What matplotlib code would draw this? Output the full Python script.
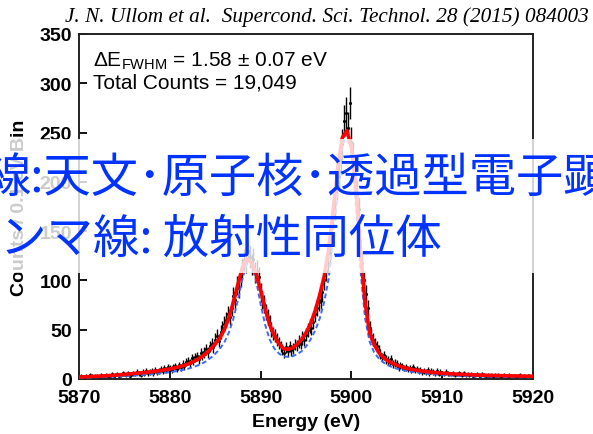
import numpy as np
import matplotlib
matplotlib.use("Agg")
import matplotlib.pyplot as plt
from matplotlib.patches import Rectangle

plt.rcParams['font.family'] = ['Liberation Sans', 'DejaVu Sans']
plt.rcParams['mathtext.default'] = 'regular'

# Measured spectrum, 0.2 eV steps from 5870 eV (five bins per row = 1 eV)
energy = np.round(np.arange(251) * 0.2 + 5870.0, 1)
counts = [
    2, 3, 1, 2, 3,        # 5870
    2, 4, 3, 1, 3,        # 5871
    3, 2, 4, 3, 2,        # 5872
    4, 3, 2, 5, 3,        # 5873
    4, 5, 3, 4, 6,        # 5874
    5, 4, 6, 3, 5,        # 5875
    6, 5, 7, 6, 4,        # 5876
    7, 5, 8, 6, 7,        # 5877
    8, 6, 9, 7, 8,        # 5878
    10, 8, 11, 9, 12,     # 5879
    11, 9, 12, 13, 10,    # 5880
    14, 12, 15, 13, 17,   # 5881
    18, 16, 21, 19, 22,   # 5882
    23, 20, 26, 24, 27,   # 5883
    30, 27, 33, 36, 32,   # 5884
    40, 44, 39, 48, 52,   # 5885
    56, 60, 66, 63, 72,   # 5886
    84, 80, 95, 92, 104,  # 5887
    112, 121, 118, 130, 124,  # 5888
    116, 122, 108, 110, 103,  # 5889
    88, 80, 76, 68, 63,   # 5890
    57, 50, 46, 44, 40,   # 5891
    37, 33, 30, 26, 32,   # 5892
    28, 33, 29, 31, 35,   # 5893
    34, 38, 36, 42, 40,   # 5894
    45, 50, 54, 52, 58,   # 5895
    66, 72, 78, 80, 88,   # 5896
    100, 110, 118, 128, 140,  # 5897
    165, 178, 196, 205, 222,  # 5898
    238, 262, 270, 255, 280,  # 5899
    240, 225, 210, 188, 172,  # 5900
    140, 118, 100, 86, 72,    # 5901
    52, 44, 40, 36, 33,   # 5902
    29, 25, 22, 24, 20,   # 5903
    19, 17, 20, 15, 16,   # 5904
    15, 12, 14, 13, 11,   # 5905
    12, 10, 11, 9, 12,    # 5906
    9, 10, 8, 9, 7,       # 5907
    8, 7, 9, 6, 8,        # 5908
    7, 6, 8, 5, 7,        # 5909
    6, 5, 7, 6, 5,        # 5910
    5, 6, 4, 5, 6,        # 5911
    5, 4, 6, 4, 5,        # 5912
    4, 5, 3, 4, 5,        # 5913
    4, 3, 5, 4, 3,        # 5914
    4, 3, 4, 2, 4,        # 5915
    3, 4, 3, 2, 4,        # 5916
    3, 2, 4, 3, 3,        # 5917
    3, 2, 3, 4, 2,        # 5918
    3, 2, 3, 3, 2,        # 5919
    3,                    # 5920
]

# Model curves, 0.5 eV steps (ten values per row = 5 eV)
fit_energy = np.round(np.arange(101) * 0.5 + 5870.0, 1)
fit_total = [
    2.0, 2.2, 2.4, 2.6, 2.8, 3.0, 3.3, 3.6, 3.9, 4.3,
    4.7, 5.1, 5.5, 6.0, 6.4, 6.9, 7.4, 8.0, 8.7, 9.4,
    10.2, 11.2, 12.3, 13.6, 15.2, 17.2, 19.6, 22.5, 26.0, 30.5,
    35.5, 41.5, 50, 62, 78, 96, 113, 122, 118, 107,
    90, 71, 55, 44, 36, 31, 30, 31.5, 35, 40,
    47, 56, 69, 85, 104, 132, 172, 215, 245, 252,
    235, 195, 130, 78, 47, 35, 27, 22, 18.5, 16,
    14, 12.5, 11, 10, 9.2, 8.5, 7.8, 7.2, 6.7, 6.3,
    5.9, 5.6, 5.3, 5.0, 4.8, 4.6, 4.4, 4.2, 4.0, 3.9,
    3.7, 3.6, 3.5, 3.4, 3.3, 3.2, 3.1, 3.0, 2.9, 2.9,
    2.8,
]
fit_intrinsic = [
    1.3, 1.4, 1.5, 1.6, 1.8, 1.9, 2.1, 2.3, 2.5, 2.7,
    3.0, 3.2, 3.5, 3.8, 4.1, 4.5, 4.9, 5.3, 5.8, 6.3,
    6.9, 7.6, 8.4, 9.3, 10.4, 11.8, 13.5, 15.5, 18.0, 21.5,
    25.5, 30.5, 37, 47, 61, 80, 102, 117, 116, 100,
    76, 55, 40, 31, 26, 23, 22.5, 23, 25, 28,
    33, 40, 49, 61, 78, 102, 140, 190, 235, 252,
    232, 175, 110, 62, 38, 27, 21, 17, 14, 12,
    10.5, 9.3, 8.3, 7.5, 6.8, 6.2, 5.7, 5.2, 4.8, 4.5,
    4.2, 3.9, 3.6, 3.4, 3.2, 3.0, 2.8, 2.7, 2.6, 2.5,
    2.4, 2.3, 2.2, 2.1, 2.0, 1.9, 1.9, 1.8, 1.8, 1.7,
    1.7,
]

x_ticks = [5870, 5880, 5890, 5900, 5910, 5920]
y_ticks = [0, 50, 100, 150, 200, 250, 300, 350]

counts = np.array(counts, dtype=float)

fig = plt.figure(figsize=(5.93, 4.35), dpi=100)
ax = fig.add_axes([79 / 593, 1 - 380 / 435, 454 / 593, 345 / 435])

ax.errorbar(energy, counts, yerr=np.sqrt(counts), fmt='.', ms=2.5,
            color='black', ecolor='black', elinewidth=1.0, capsize=0, zorder=2)
ax.plot(fit_energy, fit_intrinsic, linestyle=(0, (2.5, 1.5)), color='#3d6cf2', lw=1.4, zorder=3)
ax.plot(fit_energy, fit_total, color='#ff0000', lw=2.6, zorder=4)

ax.set_xlim(5870, 5920)
ax.set_ylim(0, 350)
ax.set_xticks(x_ticks)
ax.set_yticks(y_ticks)
ax.tick_params(axis='x', direction='in', length=6, width=1.3, labelsize=14, pad=7)
ax.tick_params(axis='y', direction='in', length=6, width=1.3, labelsize=14, pad=5)
for lbl in ax.get_xticklabels() + ax.get_yticklabels():
    lbl.set_fontweight('bold')
for sp in ax.spines.values():
    sp.set_linewidth(1.4)
    sp.set_color('#222222')

ax.set_xlabel("Energy (eV)", fontsize=14, fontweight='bold', labelpad=5)
ax.set_ylabel("Counts / 0.1 eV Bin", fontsize=14, fontweight='bold', labelpad=8)

ax.text(0.03, 0.925, r"ΔE$_{FWHM}$ = 1.58 ± 0.07 eV", transform=ax.transAxes,
        fontsize=15, va='center', ha='left')
ax.text(0.03, 0.86, "Total Counts = 19,049", transform=ax.transAxes,
        fontsize=15, va='center', ha='left')

fig.text(0.992, 1 - 17 / 435, "J. N. Ullom et al.  Supercond. Sci. Technol. 28 (2015) 084003",
         family='Liberation Serif', style='italic', fontsize=15.3, ha='right', va='center')

# translucent banner with the captions on top of the plot
band = Rectangle((0, 1 - 274 / 435), 1, 134 / 435, transform=fig.transFigure,
                 facecolor='white', edgecolor='none', alpha=0.8, zorder=5)
fig.add_artist(band)

jp = ['Noto Sans CJK JP', 'DejaVu Sans']
fig.text(-16 / 593, 1 - 179 / 435, "線:天文･原子核･透過型電子顕", family=jp,
         fontsize=34, color='#0033ff', ha='left', va='center', zorder=6)
fig.text(0 / 593, 1 - 240 / 435, "ンマ線: 放射性同位体", family=jp,
         fontsize=33.5, color='#0033ff', ha='left', va='center', zorder=6)

fig.savefig("out.png", dpi=100)
